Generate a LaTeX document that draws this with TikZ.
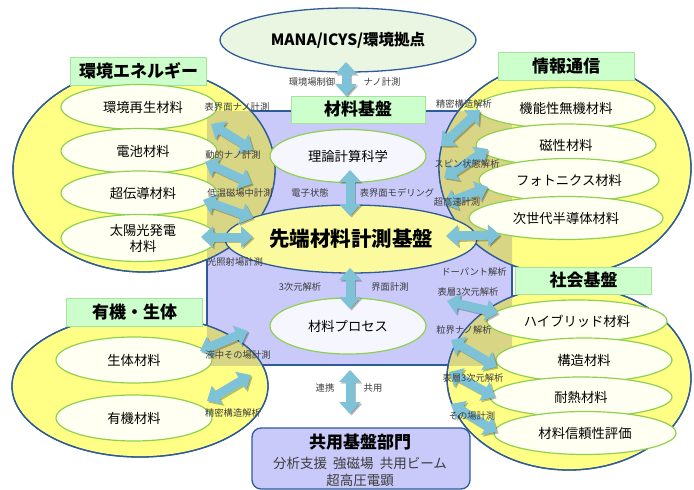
\documentclass[tikz,border=0pt]{standalone}
\usepackage{fontspec}
\setmainfont{Noto Sans CJK JP}
\usetikzlibrary{shapes.geometric,arrows.meta}
\definecolor{lav}{HTML}{C9C9FA}
\definecolor{bigyel}{HTML}{FFFF85}
\definecolor{cenyel}{HTML}{FBFA9E}
\definecolor{ovl}{HTML}{D8D585}
\definecolor{edgeblue}{HTML}{2F5C99}
\definecolor{lblfill}{HTML}{CCFFCC}
\definecolor{lbledge}{HTML}{A6E39C}
\definecolor{inedge}{HTML}{8FD14F}
\definecolor{infill}{HTML}{FFFFF2}
\definecolor{purfill}{HTML}{F6F6FF}
\definecolor{manafill}{HTML}{EAF6E2}
\definecolor{arrblue}{HTML}{7EC2D8}
\definecolor{lblgray}{HTML}{3C3C3C}
\newcommand\fatarr[3]{%
  \coordinate (#1s) at #2; \coordinate (#1e) at #3;
  \draw[fatshadow] ([shift={(1.6,1.6)}]#1s) -- ([shift={(1.6,1.6)}]#1e);
  \draw[fat] (#1s) -- (#1e);}
\begin{document}
\begin{tikzpicture}[x=1pt,y=-1pt,
  big/.style={ellipse, draw=edgeblue, line width=1.3pt, fill=bigyel, inner sep=0pt},
  inner/.style={ellipse, draw=inedge, line width=1.2pt, fill=infill, inner sep=0pt,
    font=\fontsize{13.3}{16}\selectfont, align=center},
  grouplbl/.style={rectangle, draw=lbledge, fill=lblfill, line width=0.8pt,
    font=\fontsize{17}{19}\selectfont\bfseries, minimum width=136pt, minimum height=28pt, inner sep=0pt},
  small/.style={font=\fontsize{9.3}{10}\selectfont, text=lblgray, inner sep=0pt},
  fat/.style={line width=9pt, draw=arrblue, {Triangle[width=21pt,length=12pt]}-{Triangle[width=21pt,length=12pt]}},
  fatshadow/.style={fat, draw=black, opacity=0.25}]
\useasboundingbox (0,0) rectangle (694,490);
\fill[white] (0,0) rectangle (694,490);
% core region
\node[rectangle, draw=edgeblue, line width=1.2pt, fill=lav, minimum width=305pt, minimum height=254pt, inner sep=0pt] (core) at (359.5,238) {};
% big group ellipses
\node[big, minimum width=262pt, minimum height=204pt] (gEnv) at (144,170) {};
\node[big, minimum width=252pt, minimum height=214pt] (gInfo) at (565,168) {};
\node[big, minimum width=244pt, minimum height=184pt] (gSoc) at (569,378) {};
\node[big, minimum width=256pt, minimum height=142pt] (gOrg) at (140,386) {};
\begin{scope}
\clip (207,111) rectangle (512,365);
\fill[ovl] (144,170) ellipse [x radius=131, y radius=102];
\fill[ovl] (565,168) ellipse [x radius=126, y radius=107];
\fill[ovl] (569,378) ellipse [x radius=122, y radius=92];
\fill[ovl] (140,386) ellipse [x radius=128, y radius=71];
\end{scope}
\begin{scope}[draw=edgeblue, line width=1.3pt]
\draw (144,170) ellipse [x radius=131, y radius=102];
\draw (565,168) ellipse [x radius=126, y radius=107];
\draw (569,378) ellipse [x radius=122, y radius=92];
\draw (140,386) ellipse [x radius=128, y radius=71];
\end{scope}
% top ellipse
\node[ellipse, draw=edgeblue, line width=1.3pt, fill=manafill, minimum width=256pt, minimum height=64pt, inner sep=0pt,
  font=\fontsize{15.5}{18}\selectfont\bfseries] (mana) at (348,40) {MANA/ICYS/環境拠点};
% group labels
\node[grouplbl] (lEnv) at (138.5,71) {環境エネルギー};
\node[grouplbl] (lInfo) at (566,66) {情報通信};
\node[grouplbl, minimum height=27pt] (lSoc) at (583.5,280.5) {社会基盤};
\node[grouplbl] (lOrg) at (134.5,312) {有機・生体};
% inner ellipses: environment & energy
\node[inner, minimum width=156pt, minimum height=45pt] (e1) at (139,107) {\hspace{8pt}環境再生材料};
\node[inner, minimum width=156pt, minimum height=45pt] (e2) at (139,151) {\hspace{8pt}電池材料};
\node[inner, minimum width=156pt, minimum height=44pt] (e3) at (139,193) {\hspace{8pt}超伝導材料};
\node[inner, minimum width=156pt, minimum height=47pt] (e4) at (139,238) {\hspace{8pt}太陽光発電\\\hspace{8pt}材料};
% information
\node[inner, minimum width=178pt, minimum height=41pt] (i1) at (566,108) {機能性無機材料};
\node[inner, minimum width=180pt, minimum height=42pt] (i2) at (566,145) {磁性材料};
\node[inner, minimum width=180pt, minimum height=43pt] (i3) at (569,180) {フォトニクス材料};
\node[inner, minimum width=194pt, minimum height=43pt] (i4) at (566,218) {次世代半導体材料};
% social infrastructure
\node[inner, minimum width=180pt, minimum height=42pt] (s1) at (577,321) {ハイブリッド材料};
\node[inner, minimum width=176pt, minimum height=44pt] (s2) at (584,360) {構造材料};
\node[inner, minimum width=182pt, minimum height=40pt] (s3) at (581,397) {耐熱材料};
\node[inner, minimum width=182pt, minimum height=43pt] (s4) at (585,433) {材料信頼性評価};
% organic / bio
\node[inner, minimum width=156pt, minimum height=46pt] (o1) at (134,360) {生体材料};
\node[inner, minimum width=156pt, minimum height=46pt] (o2) at (134,418) {有機材料};
% core contents
\node[grouplbl, minimum width=134pt, minimum height=27pt] (lBase) at (358,109.5) {材料基盤};
\node[inner, fill=purfill, minimum width=156pt, minimum height=53pt] (theory) at (348,156) {理論計算科学};
\node[inner, fill=purfill, minimum width=156pt, minimum height=56pt] (process) at (348,326) {材料プロセス};
\node[ellipse, draw=edgeblue, line width=1.3pt, fill=cenyel, minimum width=252pt, minimum height=68pt, inner sep=0pt,
  font=\fontsize{20.5}{22}\selectfont\bfseries] (center) at (351,239) {先端材料計測基盤};
% shared facilities box
\node[rectangle, rounded corners=9pt, draw=edgeblue, line width=1.3pt, fill=lav, minimum width=218pt, minimum height=61pt, inner sep=0pt] (shared) at (361,458.5) {};
\node[font=\fontsize{17}{19}\selectfont\bfseries, inner sep=0pt] (sharedT) at (360,442) {共用基盤部門};
\node[font=\fontsize{13.5}{15}\selectfont, text=lblgray, inner sep=0pt] (sharedA) at (360,463) {分析支援\ \ 強磁場\ \ 共用ビーム};
\node[font=\fontsize{13.5}{15}\selectfont, text=lblgray, inner sep=0pt] (sharedB) at (360,480) {超高圧電顕};
% arrows
\fatarr{am}{(346,62)}{(346,96)}
\fatarr{at}{(350,170)}{(350,216)}
\fatarr{ap}{(350,268)}{(350,309)}
\fatarr{ac}{(350,370)}{(350,414)}
\fatarr{ae1}{(211,124)}{(253,150)}
\fatarr{ae2}{(205,162)}{(252,184)}
\fatarr{ae3}{(203,200)}{(253,218)}
\fatarr{ae4}{(201,237)}{(253,237)}
\fatarr{ai1}{(441,146)}{(480,110)}
\fatarr{ai2}{(444,178)}{(488,149)}
\fatarr{ai3}{(444,204)}{(488,187)}
\fatarr{ai4}{(446,236)}{(500,235)}
\fatarr{as1}{(447,301)}{(498,313)}
\fatarr{as2}{(451,340)}{(497,367)}
\fatarr{as3}{(449,372)}{(495,397)}
\fatarr{as4}{(451,404)}{(497,432)}
\fatarr{ao1}{(200,351)}{(248,331)}
\fatarr{ao2}{(207,401)}{(251,375)}
% small labels
\node[small] (t1) at (237,107) {表界面ナノ計測};
\node[small] (t2) at (233,155) {動的ナノ計測};
\node[small] (t3) at (240,193) {低温磁場中計測};
\node[small] (t4) at (235,262) {光照射場計測};
\node[small] (t5) at (312,82) {環境場制御};
\node[small] (t6) at (382,82) {ナノ計測};
\node[small] (t7) at (310,193) {電子状態};
\node[small] (t8) at (397,193) {表界面モデリング};
\node[small] (t9) at (300,287) {3次元解析};
\node[small] (t10) at (390,287) {界面計測};
\node[small] (t11) at (325,388) {連携};
\node[small] (t12) at (373,388) {共用};
\node[small] (t13) at (464,104) {精密構造解析};
\node[small] (t14) at (467,164) {スピン状態解析};
\node[small] (t15) at (457,202) {超高速計測};
\node[small] (t16) at (474,272) {ドーパント解析};
\node[small] (t17) at (468,292) {表層3次元解析};
\node[small] (t18) at (464,330) {粒界ナノ解析};
\node[small] (t19) at (473,378) {表層3次元解析};
\node[small] (t20) at (472,416) {その場計測};
\node[small] (t21) at (238,355) {液中その場計測};
\node[small] (t22) at (233,413) {精密構造解析};
\end{tikzpicture}
\end{document}
